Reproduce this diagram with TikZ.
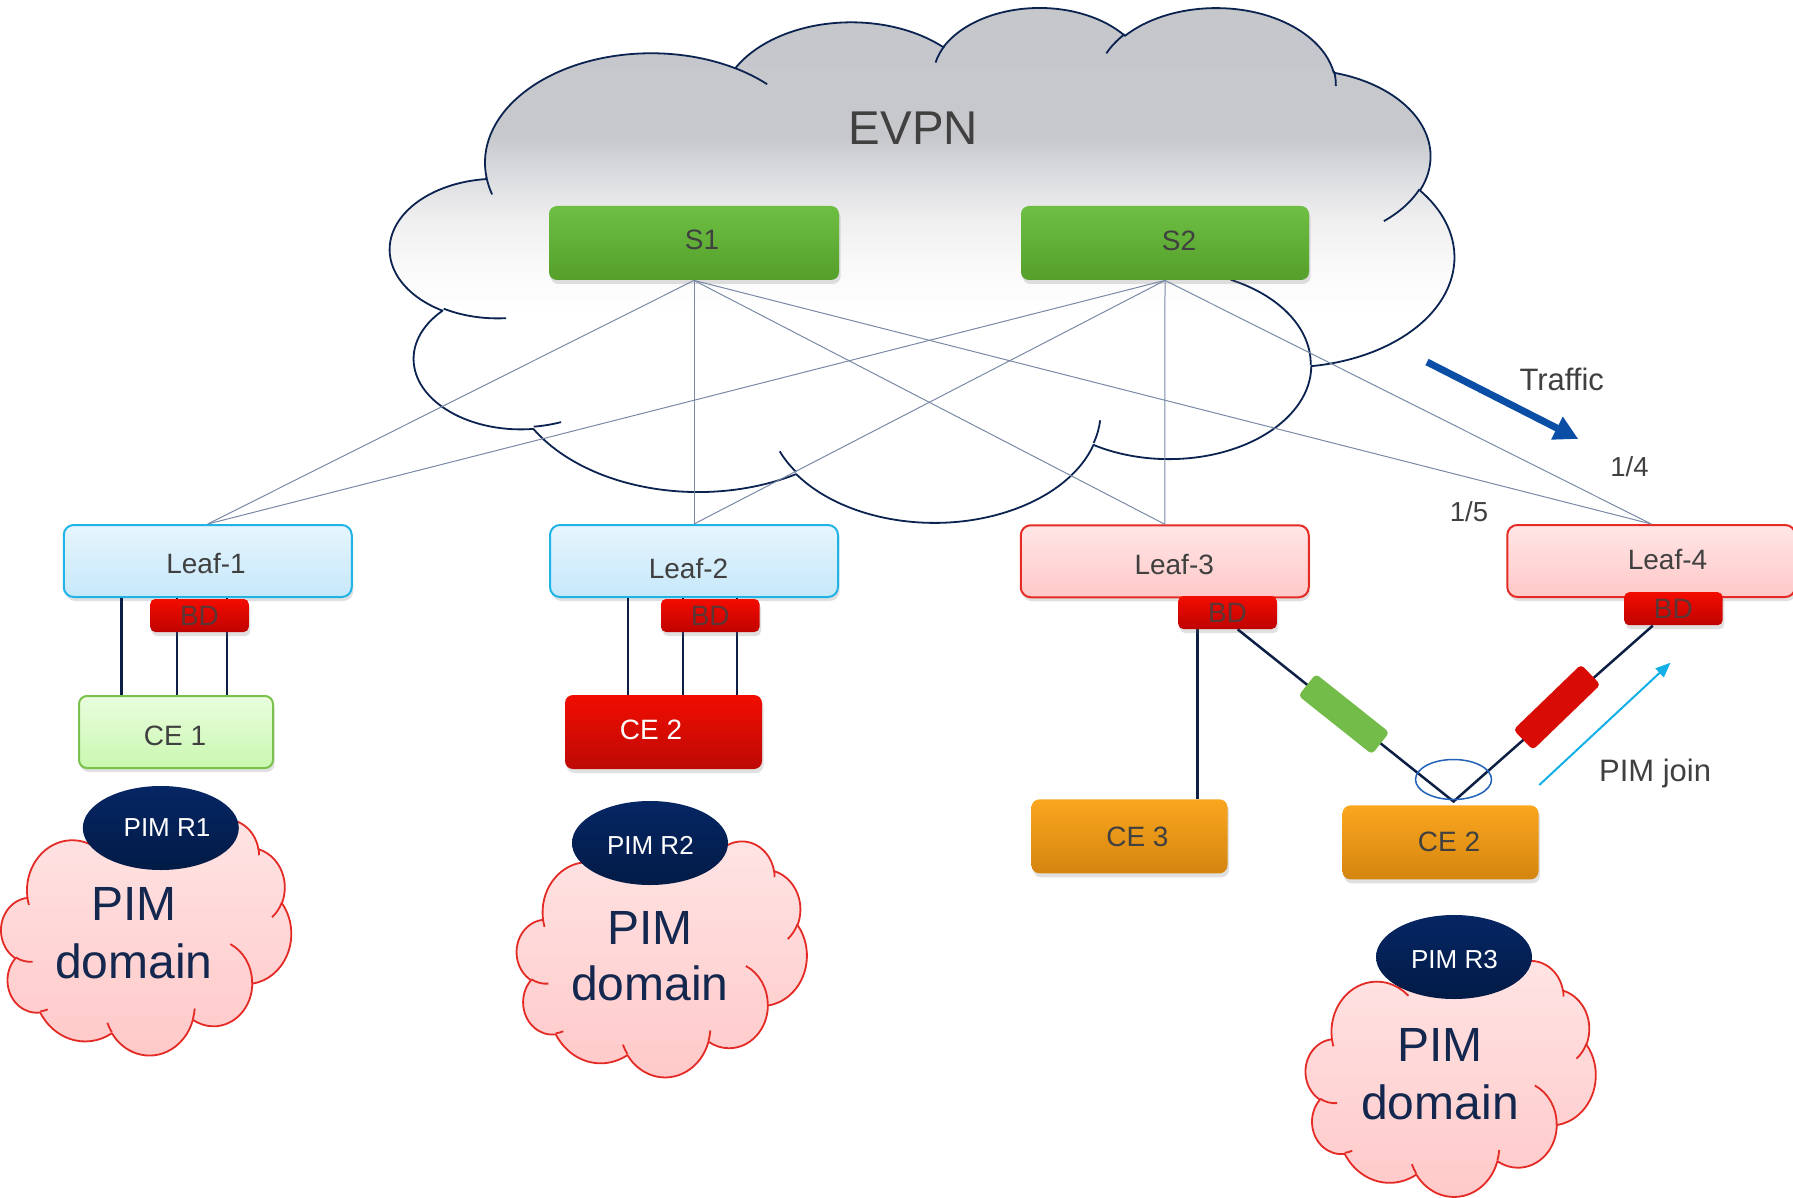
\documentclass[tikz,border=0pt]{standalone}
\usepackage{fontspec}
\setmainfont{Liberation Sans}
\usetikzlibrary{shapes.geometric,arrows.meta,calc,shadows}

\definecolor{txtgray}{HTML}{404040}
\definecolor{navyline}{HTML}{0D1F45}
\definecolor{cloudnavy}{HTML}{0A2350}
\definecolor{evgray}{HTML}{C4C5CA}
\definecolor{evgrayb}{HTML}{C7C8CC}
\definecolor{evmid}{HTML}{DCDDE0}
\definecolor{evlight}{HTML}{EFEFF0}
\definecolor{evlighter}{HTML}{F8F8F8}
\definecolor{spinetop}{HTML}{6DBF43}
\definecolor{spinebot}{HTML}{559F2B}
\definecolor{leafbluetop}{HTML}{E6F5FD}
\definecolor{leafbluebot}{HTML}{C6E8FA}
\definecolor{leafblueborder}{HTML}{20B4E6}
\definecolor{leafpinktop}{HTML}{FFE6E6}
\definecolor{leafpinkbot}{HTML}{FFC8C8}
\definecolor{leafpinkborder}{HTML}{E52B23}
\definecolor{bdtop}{HTML}{F30C00}
\definecolor{bdbot}{HTML}{BF0300}
\definecolor{bdtext}{HTML}{5A3636}
\definecolor{cegreentop}{HTML}{E9FDDE}
\definecolor{cegreenbot}{HTML}{CAF8B0}
\definecolor{cegreenborder}{HTML}{7AC24C}
\definecolor{ceredtop}{HTML}{F10D00}
\definecolor{ceredbot}{HTML}{BD0A05}
\definecolor{ceorgtop}{HTML}{FAA61F}
\definecolor{ceorgbot}{HTML}{D4850F}
\definecolor{bargreen}{HTML}{74BC4A}
\definecolor{barred}{HTML}{D80C05}
\definecolor{pimtop}{HTML}{062664}
\definecolor{pimbot}{HTML}{021B46}
\definecolor{pinktop}{HTML}{FFE4E4}
\definecolor{pinkbot}{HTML}{FFC8C8}
\definecolor{pinkborder}{HTML}{E42A24}
\definecolor{domaintext}{HTML}{14284F}
\definecolor{spokeline}{HTML}{7A8AA6}
\definecolor{trafficblue}{HTML}{0B4EA6}
\definecolor{joincyan}{HTML}{12B0E6}
\definecolor{ringblue}{HTML}{2262B8}

\pgfdeclareverticalshading{evpnshade}{100bp}{color(0bp)=(white); color(46bp)=(white); color(50.5bp)=(evlighter); color(54.4bp)=(evlight); color(58.3bp)=(evmid); color(62.2bp)=(evgrayb); color(100bp)=(evgray)}

% elliptical arc in the PowerPoint way: rx, ry, start (visual) angle, sweep
\newcommand\carc[4]{arc[start angle={cpar(#3,#1,#2)}, end angle={cpar(#3+#4,#1,#2)}, x radius=#1, y radius=#2]}

\newcommand\cloudmain{(9.028,33.264)
 \carc{15.632}{21.273}{-190.4875}{123.7805}
 \carc{12.345}{16.822}{-144.1024}{89.9452}
 \carc{10.104}{13.762}{-145.8079}{99.7230}
 \carc{11.243}{15.266}{-130.9861}{117.2417}
 \carc{12.345}{16.836}{-78.7089}{109.0269}
 \carc{15.683}{21.343}{-46.2673}{130.2690}
 \carc{13.391}{18.211}{0.6250}{114.0333}
 \carc{15.630}{21.331}{22.4516}{115.1726}
 \carc{17.870}{24.405}{66.2426}{75.7110}
 \carc{10.093}{13.699}{-274.9421}{146.7356}
 \carc{10.058}{13.762}{-246.8285}{152.5189}
 -- cycle}

\newcommand\cloudhooks{
 (10.863,60.595) \carc{10.058}{13.762}{86.7420}{26.4295}
 (16.037,80.785) \carc{10.093}{13.699}{73.6105}{11.4475}
 (38.144,90.486) \carc{15.630}{21.331}{137.6242}{14.0811}
 (66.729,80.442) \carc{15.630}{21.331}{6.4533}{15.9984}
 (79.002,53.134) \carc{13.391}{18.211}{-70.2924}{70.9174}
 (96.755,35.542) \carc{12.345}{16.836}{30.3180}{27.7515}
 (88.713,12.560) \carc{11.243}{15.266}{-13.7443}{14.8589}
 (67.310,9.148) \carc{11.243}{15.266}{-149.1815}{18.1954}
 (51.252,10.926) \carc{10.104}{13.762}{-163.4943}{17.6864}
 (32.407,12.019) \carc{15.632}{21.273}{-66.7070}{12.3194}
 (9.553,36.549) \carc{15.632}{21.273}{157.6544}{11.8582}
}

% #1,#2 origin (px), #3,#4 x/y vectors, #5 fill style, #6 line style
\newcommand\pptcloud[6]{%
  \begin{scope}[shift={(#1,#2)}, x=#3, y=#4]
    \path[#5, #6] \cloudmain;
    \path[#6] \cloudhooks;
  \end{scope}}

\begin{document}
\begin{tikzpicture}[x=0.5pt, y=-0.5pt,
  declare function={cpar(\qa,\qb,\qc)=\qa+asin(sin(atan2(\qb*sin(\qa),\qc*cos(\qa))-\qa));},
  boxbase/.style={rectangle, rounded corners=4pt, inner sep=0pt,
    drop shadow={opacity=0.2, shadow xshift=0.8pt, shadow yshift=-2pt, fill=black!60}},
  spinebox/.style={boxbase, top color=spinetop, bottom color=spinebot, minimum width=145pt, minimum height=37pt},
  leafblue/.style={boxbase, rounded corners=5pt, top color=leafbluetop, bottom color=leafbluebot, draw=leafblueborder, line width=1pt, minimum width=144pt, minimum height=36pt},
  leafpink/.style={boxbase, rounded corners=5pt, top color=leafpinktop, bottom color=leafpinkbot, draw=leafpinkborder, line width=1pt, minimum width=144pt, minimum height=36pt},
  bdbox/.style={boxbase, rounded corners=2.5pt, top color=bdtop, bottom color=bdbot, minimum width=49.25pt, minimum height=16.5pt, text=bdtext, font=\fontsize{14pt}{16pt}\selectfont},
  cegreen/.style={boxbase, top color=cegreentop, bottom color=cegreenbot, draw=cegreenborder, line width=1pt, minimum width=97pt, minimum height=36pt},
  cered/.style={boxbase, top color=ceredtop, bottom color=ceredbot, minimum width=98.5pt, minimum height=37pt},
  ceorange/.style={boxbase, top color=ceorgtop, bottom color=ceorgbot, minimum width=98pt, minimum height=37pt},
  barbox/.style={rectangle, rounded corners=2pt, inner sep=0pt, minimum width=47pt, minimum height=14pt},
  pimell/.style={ellipse, inner sep=0pt, minimum width=78pt, minimum height=42pt, top color=pimtop, bottom color=pimbot},
  txt/.style={inner sep=0pt, anchor=base, text=txtgray, font=\fontsize{14pt}{17pt}\selectfont},
  pimtxt/.style={inner sep=0pt, anchor=base, text=white, font=\fontsize{13pt}{16pt}\selectfont},
  domtxt/.style={inner sep=0pt, anchor=base, text=domaintext, font=\fontsize{24pt}{29pt}\selectfont},
  spoke/.style={spokeline, line width=0.5pt},
  link/.style={navyline, line width=1.25pt},
  cloudline/.style={draw=cloudnavy, line width=0.9pt, line join=round},
  pinkline/.style={draw=pinkborder, line width=0.9pt, line join=round}
]
\useasboundingbox (0,0) rectangle (1793,1198);
\clip (0,0) rectangle (1793,1198);
\fill[white] (0,0) rectangle (1793,1198);

% EVPN cloud
\pptcloud{390.5}{6.3}{5.3175pt}{-2.5735pt}{shade, shading=evpnshade}{cloudline}
\node[txt, font=\fontsize{23.7pt}{28pt}\selectfont] (evpn) at (913.3,144.6) {EVPN};

% spine switches
\node[spinebox] (s1) at (694,243) {};
\node[spinebox, minimum width=144pt] (s2) at (1165,243) {};

% leaves
\node[leafblue] (leaf1) at (207.75,561) {};
\node[leafblue] (leaf2) at (694,561) {};
\node[leafpink] (leaf3) at (1164.75,561.25) {};
\node[leafpink] (leaf4) at (1651.25,561) {};

% spine-leaf connections
\foreach \s in {s1,s2}
  \foreach \l in {leaf1,leaf2,leaf3,leaf4}
    \draw[spoke] (\s.south) -- (\l.north);

\node[txt] (s1t) at (702,249.3) {S1};
\node[txt] (s2t) at (1179,250) {S2};
\node[txt] (leaf1t) at (206,573.5) {Leaf-1};
\node[txt] (leaf2t) at (688.5,578) {Leaf-2};
\node[txt] (leaf3t) at (1174.2,574.8) {Leaf-3};
\node[txt] (leaf4t) at (1667.5,569.3) {Leaf-4};

% CE boxes
\node[cegreen] (ce1) at (176,732) {};
\node[cered] (ce2r) at (663.5,732) {};
\node[ceorange] (ce3) at (1129.5,836.3) {};
\node[ceorange] (ce2o) at (1440.5,842.4) {};

% leaf - CE links
\foreach \dx in {-27.15pt,0.4pt,25.4pt}
  \draw[link] ([xshift=\dx]ce1.north) -- ([xshift=\dx]ce1.north |- leaf1.south);
\foreach \dx in {-17.75pt,9.75pt,36.75pt}
  \draw[link] ([xshift=\dx]ce2r.north) -- ([xshift=\dx]ce2r.north |- leaf2.south);
\draw[link] ([xshift=33.9pt]ce3.north) -- ([xshift=33.9pt]ce3.north |- leaf3.south);

% BD boxes
\node[bdbox] (bd1) at (199.5,615.5) {BD};
\node[bdbox] (bd2) at (710.25,615.5) {BD};
\node[bdbox] (bd3) at (1227.5,612.5) {BD};
\node[bdbox] (bd4) at (1673.4,608.7) {BD};

% V links to CE 2
\coordinate (vL) at ([xshift=5.1pt]bd3.south);
\coordinate (vR) at ([xshift=-10.3pt]bd4.south);
\coordinate (vtx) at ([xshift=6.5pt,yshift=1.75pt]ce2o.north);
\draw[link] (vL) -- (vtx) -- (vR);
\node[barbox, fill=bargreen, rotate=-38.5] (gbar) at ($(vL)!0.492!(vtx)$) {};
\node[barbox, fill=barred, rotate=44] (rbar) at ($(vtx)!0.519!(vR)+(0,-3)$) {};
\node[ellipse, draw=ringblue, line width=0.75pt, minimum width=38pt, minimum height=20pt, inner sep=0pt] (ring) at ([yshift=11pt]vtx) {};

\node[txt] (ce1t) at (175,745) {CE 1};
\node[txt, text=white] (ce2rt) at (651,739) {CE 2};
\node[txt] (ce3t) at (1137.4,846) {CE 3};
\node[txt] (ce2ot) at (1449,851.7) {CE 2};

% PIM domain clouds
\pptcloud{1.2}{818.7}{1.45pt}{-1.18pt}{top color=pinktop, bottom color=pinkbot}{pinkline}
\pptcloud{516.8}{840.6}{1.45pt}{-1.18pt}{top color=pinktop, bottom color=pinkbot}{pinkline}
\pptcloud{1305.7}{960.1}{1.45pt}{-1.18pt}{top color=pinktop, bottom color=pinkbot}{pinkline}

\node[domtxt] (d1a) at (134,920.7) {PIM};
\node[domtxt] (d1b) at (134,978.6) {domain};
\node[domtxt] (d2a) at (650,944) {PIM};
\node[domtxt] (d2b) at (650,1000.5) {domain};
\node[domtxt] (d3a) at (1440,1061) {PIM};
\node[domtxt] (d3b) at (1440,1119) {domain};

% PIM rendezvous points
\node[pimell] (r1) at (160.8,828) {};
\node[pimell] (r2) at (650,843) {};
\node[pimell] (r3) at (1454,957) {};
\node[pimtxt] (r1t) at (167,836.7) {PIM R1};
\node[pimtxt] (r2t) at (650.4,854) {PIM R2};
\node[pimtxt] (r3t) at (1454.4,968.4) {PIM R3};

% traffic arrow
\coordinate (trafA) at (1427,362);
\coordinate (trafB) at (1578.3,439);
\draw[trafficblue, line width=3.5pt, -{Triangle[length=12pt,width=12pt]}] (trafA) -- (trafB);
\node[txt, font=\fontsize{15.5pt}{18pt}\selectfont] (traffic) at (1561.7,390.7) {Traffic};
\node[txt, font=\fontsize{13.75pt}{16pt}\selectfont] (q14) at (1629.5,476.8) {1/4};
\node[txt, font=\fontsize{13.75pt}{16pt}\selectfont] (q15) at (1469,521.4) {1/5};

% PIM join arrow
\coordinate (joinA) at (1539.3,785);
\coordinate (joinB) at (1670.5,662.7);
\draw[joincyan, line width=1pt, -{Triangle[length=7.5pt,width=6pt]}] (joinA) -- (joinB);
\node[txt, font=\fontsize{15.5pt}{18pt}\selectfont] (pimjoin) at (1655.1,781.4) {PIM join};
\end{tikzpicture}
\end{document}
